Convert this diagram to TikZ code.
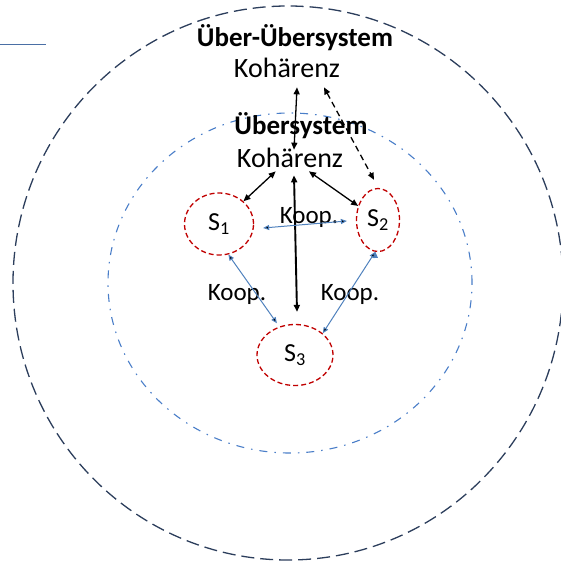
\documentclass[tikz,border=0pt]{standalone}
\usepackage{fontspec}
\setmainfont{Carlito}
\usetikzlibrary{positioning,shapes.geometric,arrows.meta}

\definecolor{navy}{RGB}{44,62,92}
\definecolor{ringblue}{RGB}{74,126,200}
\definecolor{koopblue}{RGB}{79,129,189}
\definecolor{subred}{RGB}{192,0,0}
\definecolor{lineblue}{RGB}{74,111,165}

\begin{document}
\begin{tikzpicture}[x=1pt,y=-1pt,on grid,
    every node/.style={font=\fontsize{28}{32}\selectfont},
    title/.style={font=\bfseries\fontsize{27}{31}\selectfont},
    lbl/.style={font=\fontsize{25}{29}\selectfont},
    sys/.style={ellipse,draw=subred,line width=1.3pt,dash pattern=on 5pt off 3pt,inner sep=0pt,font=\fontsize{26}{30}\selectfont},
    koh/.style={{Triangle[length=7pt,width=6pt]}-{Triangle[length=7pt,width=6pt]},line width=1.3pt},
    koop/.style={{Triangle[length=6pt,width=5pt]}-{Triangle[length=6pt,width=5pt]},draw=koopblue,line width=1pt}]
   \useasboundingbox (0,0) rectangle (560,561);
   % rings
   \draw[navy,line width=1.3pt,dash pattern=on 13pt off 6pt] (288,283) ellipse [x radius=275pt,y radius=277pt];
   \draw[ringblue,line width=1.1pt,dash pattern=on 8pt off 7pt on 1.5pt off 7pt] (290,283) ellipse [x radius=182pt,y radius=170pt];
   \draw[lineblue,line width=1pt] (0,45) -- (46,45);
   % texts
   \node[title] (uu) at (295,38) {Über-Übersystem};
   \node (k1) [below left=30pt and 8pt of uu] {Kohärenz};
   \node[title] (ue) [below right=58pt and 14pt of k1] {Übersystem};
   \node (k2) [below left=32pt and 11pt of ue] {Kohärenz};
   % subsystems
   \node[sys,minimum width=69pt,minimum height=62pt] (s1) [below left=66pt and 71pt of k2] {S\textsubscript{1}};
   \node[sys,minimum width=43pt,minimum height=63pt] (s2) [below right=62pt and 88pt of k2] {S\textsubscript{2}};
   \node[sys,minimum width=76pt,minimum height=61pt] (s3) [below right=197pt and 5pt of k2] {S\textsubscript{3}};
   \node[lbl] (c12) [below right=59pt and 19pt of k2] {Koop.};
   \node[lbl] (c13) [below right=70pt and 18pt of s1] {Koop.};
   \node[lbl] (c23) [below left=74pt and 28pt of s2] {Koop.};
   \path[koh]
    ([xshift=10pt,yshift=-6pt]k1.south) edge ([xshift=4pt,yshift=-5pt]k2.north)
    (k2) edge (s1)
    (k2) edge (s2)
    ([xshift=4pt,yshift=-4pt]k2.south) edge[line width=1.9pt] ([xshift=2pt,yshift=12pt]s3.north);
   \path[koh,dash pattern=on 6pt off 4pt] ([xshift=37pt,yshift=-6pt]k1.south) edge ([xshift=-4pt,yshift=8pt]s2.north);
   \path[koop]
    ([xshift=9pt,yshift=-4pt]s1.east) edge ([xshift=-9pt,yshift=-1pt]s2.west)
    (s1.-73) edge[shorten >=4pt] (s3.119)
    (s2.-95) edge (s3.38);
\end{tikzpicture}
\end{document}
